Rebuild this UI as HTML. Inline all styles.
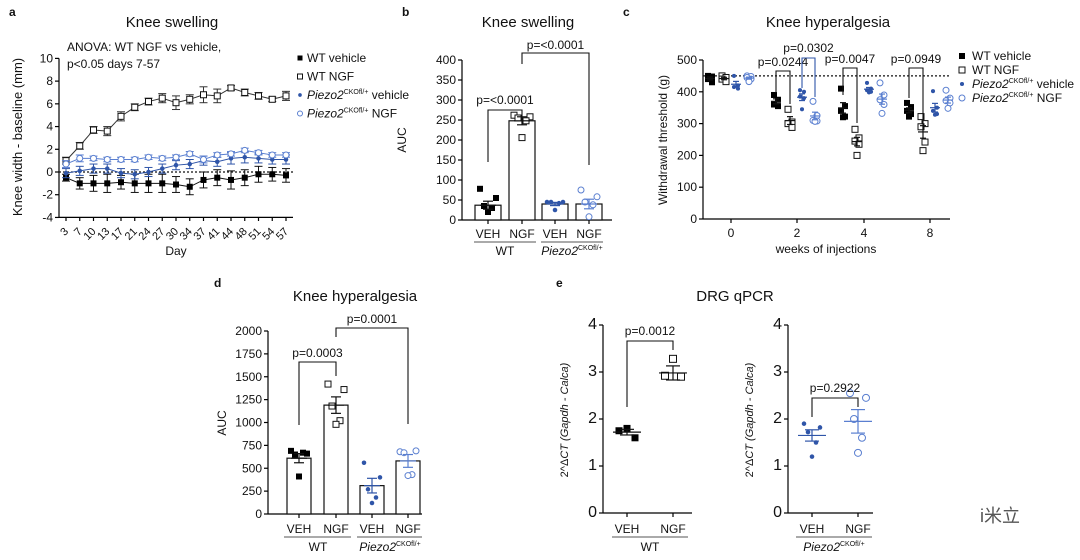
<!DOCTYPE html>
<html><head><meta charset="utf-8"><style>
html,body{margin:0;padding:0;background:#fff;}
svg{display:block;font-family:"Liberation Sans","Noto Sans CJK SC",sans-serif;}
</style></head><body>
<svg id="fig" width="1080" height="560" viewBox="0 0 1080 560"></svg>
<script>
// ---------- Panel a data ----------
const aDays = [3,7,10,13,17,21,24,27,30,34,37,41,44,48,51,54,57];
const aWTveh = [-0.5,-1,-1,-1,-0.9,-1,-1,-1,-1.1,-1.3,-0.7,-0.5,-0.7,-0.5,-0.2,-0.2,-0.3];
const aWTvehErr = [0.3,0.5,0.7,0.8,0.6,0.8,0.8,0.8,0.7,0.7,0.7,0.7,0.8,0.7,0.7,0.6,0.6];
const aWTngf = [1.0,2.3,3.7,3.6,4.9,5.7,6.2,6.5,6.1,6.4,6.8,6.7,7.4,7.0,6.7,6.4,6.7];
const aWTngfErr = [0.3,0.3,0.3,0.4,0.4,0.3,0.3,0.4,0.6,0.4,0.7,0.6,0.2,0.3,0.3,0.2,0.4];
const aPveh = [-0.1,0.1,0.3,0.3,-0.1,-0.2,0,0.3,0.6,0.7,1.0,0.9,1.2,1.3,1.2,1.1,1.1];
const aPvehErr = [0.4,0.4,0.4,0.4,0.4,0.4,0.4,0.4,0.4,0.4,0.4,0.4,0.5,0.5,0.4,0.4,0.4];
const aPngf = [0.7,1.2,1.2,1.1,1.1,1.1,1.3,1.2,1.3,1.6,1.1,1.5,1.6,1.9,1.7,1.5,1.5];
const aPngfErr = [0.3,0.3,0.2,0.2,0.2,0.2,0.2,0.2,0.2,0.2,0.3,0.2,0.2,0.2,0.2,0.2,0.2];
const aYTicks = [10,8,6,4,2,0,-2,-4];
// ---------- Panel b data ----------
const bGroups = ["VEH","NGF","VEH","NGF"];
const bMeans = [37,248,40,40];
const bErrs = [10,10,4,12];
const bPts = [[78,55,35,30,20],[262,258,255,248,206],[45,45,45,42,25],[75,58,45,38,8]];
const bYTicks = [0,50,100,150,200,250,300,350,400];
// ---------- Panel c data ----------
const cWeeks = ["0","2","4","8"];
const cWTveh = [[450,448,440,430],[390,375,360,355],[410,355,340,322,320],[365,352,340,330,322]];
const cWTngf = [[450,445,440,432],[345,305,300,288],[282,255,245,235,200],[322,300,290,242,215]];
const cPveh = [[450,420,415,410],[405,400,385,380,345],[428,410,405,400,398],[402,350,340,330,328]];
const cPngf = [[450,448,445,440,432],[370,325,310,308,307],[428,390,375,360,332],[405,380,372,365,348]];
const cYTicks = [0,100,200,300,400,500];
// ---------- Panel d data ----------
const dMeans = [610,1190,310,580];
const dErrs = [50,90,80,70];
const dPts = [[690,660,650,670,410],[1420,1360,1180,1020,980],[560,400,270,180,120],[680,690,670,430,420]];
const dYTicks = [0,250,500,750,1000,1250,1500,1750,2000];
// ---------- Panel e data ----------
const eWTpts = [[1.8,1.75,1.6],[3.28,2.92,2.9]];
const eWTmeans = [1.72,2.98];
const eWTerrs = [0.06,0.15];
const ePpts = [[1.9,1.82,1.72,1.5,1.2],[2.55,2.45,2.0,1.6,1.28]];
const ePmeans = [1.65,1.95];
const ePerrs = [0.12,0.25];
const eYTicks = [0,1,2,3,4];

const S = document.getElementById('fig');
const NS = 'http://www.w3.org/2000/svg';
const BL = '#2f55a8', BL2 = '#5a7fd0';
function mk(tag, at, name){
  const el = document.createElementNS(NS, tag);
  for (const k in at) el.setAttribute(k, at[k]);
  
  
  S.appendChild(el); return el;
}
function line(x1,y1,x2,y2,name,st,w,dash){const a={x1,y1,x2,y2,stroke:st||'#000','stroke-width':w||1.2};if(dash)a['stroke-dasharray']=dash;return mk('line',a,name);}
function txt(x,y,s,name,o){o=o||{};const a={x,y,'font-size':o.fs||12,'text-anchor':o.an||'middle',fill:o.fill||'#111'};if(o.it)a['font-style']='italic';if(o.tr)a.transform=o.tr;if(o.fw)a['font-weight']=o.fw;const t=mk('text',a,name);t.innerHTML=s;return t;}
function marker(type,x,y,name,sz){
  sz=sz||6;
  if(type==='fs') return mk('rect',{x:x-sz/2,y:y-sz/2,width:sz,height:sz,fill:'#000'},name);
  if(type==='os') return mk('rect',{x:x-sz/2,y:y-sz/2,width:sz,height:sz,fill:'#fff',stroke:'#111','stroke-width':1},name);
  if(type==='fc') return mk('circle',{cx:x,cy:y,r:sz/2.2,fill:BL},name);
  return mk('circle',{cx:x,cy:y,r:sz/2,fill:'#fff',stroke:BL2,'stroke-width':1},name);
}
function yAxis(x,ys,ticks,fn,name,fs){
  line(x,fn(ticks[0]),x,fn(ticks[ticks.length-1]),name+'-line');
  ticks.forEach(t=>{line(x-4,fn(t),x,fn(t),name+'-tick');txt(x-6,fn(t)+4,t,name+'-label',{an:'end',fs:fs||12});});
}
function bracket(x1,x2,top,f1,f2,label,name,col,ty){
  col=col||'#111';
  mk('polyline',{points:`${x1},${f1} ${x1},${top} ${x2},${top} ${x2},${f2}`,fill:'none',stroke:col,'stroke-width':1.1},name);
  txt((x1+x2)/2,ty||top-5,label,name+'-label',{fs:12});
}
function sem(x,m,e,fn,hw,cap,col,name){
  line(x-hw,fn(m),x+hw,fn(m),name+'-mean',col,1.2);
  line(x,fn(m-e),x,fn(m+e),name+'-err',col,1.2);
  line(x-cap,fn(m-e),x+cap,fn(m-e),name+'-cap',col,1.2);
  line(x-cap,fn(m+e),x+cap,fn(m+e),name+'-cap',col,1.2);
}
const jit5=[-8,8,-4,4,0];
const PZ='<tspan font-style="italic">Piezo2</tspan><tspan font-size="7" dy="-5">CKOfl/+</tspan>';

// ================= Panel a =================
txt(9,16,'a','panel-a-letter',{fs:12,fw:'bold',an:'start'});
txt(172,27,'Knee swelling','panel-a-title',{fs:15});
txt(67,51,'ANOVA: WT NGF vs vehicle,','anova-note',{an:'start',fs:12});
txt(67,68,'p&lt;0.05 days 7-57','anova-note-2',{an:'start',fs:12});
const ya=v=>172-v*11.36, xa=i=>66+i*13.75;
yAxis(59,null,aYTicks,ya,'a-y-axis',12);
line(59,217.4,293,217.4,'a-x-axis');
aDays.forEach((d,i)=>{line(xa(i),217.4,xa(i),221,'a-x-tick');txt(xa(i)+3,232,d,'a-x-label',{an:'end',fs:11,tr:`rotate(-45 ${xa(i)+3} 232)`});});
txt(176,255,'Day','a-x-title',{fs:12});
txt(22,137,'Knee width - baseline (mm)','a-y-title',{fs:13,tr:'rotate(-90 22 137)'});
line(59,ya(0),293,ya(0),'a-zero-line','#111',1.2,'2,2');
[[aWTveh,aWTvehErr,'fs','#111','wt-vehicle'],[aWTngf,aWTngfErr,'os','#333','wt-ngf'],[aPveh,aPvehErr,'fc',BL,'piezo2-vehicle'],[aPngf,aPngfErr,'oc',BL2,'piezo2-ngf']].forEach(([v,e,m,c,n])=>{
  mk('polyline',{points:v.map((y,i)=>`${xa(i)},${ya(y)}`).join(' '),fill:'none',stroke:c,'stroke-width':1},'a-line-'+n);
  v.forEach((y,i)=>{line(xa(i),ya(y-e[i]),xa(i),ya(y+e[i]),'a-err-'+n,c,1);line(xa(i)-4,ya(y-e[i]),xa(i)+4,ya(y-e[i]),'a-cap-'+n,c,1);line(xa(i)-4,ya(y+e[i]),xa(i)+4,ya(y+e[i]),'a-cap-'+n,c,1);marker(m,xa(i),ya(y),'a-point-'+n,m==='fc'?5:6);});
});
[['fs','WT vehicle'],['os','WT NGF'],['fc',PZ+'<tspan dy="5"> vehicle</tspan>'],['oc',PZ+'<tspan dy="5"> NGF</tspan>']].forEach(([m,l],i)=>{
  const y=58+i*18.5;marker(m,300,y,'a-legend-marker',m==='fc'?4:5);
  txt(307,y+4,l,'a-legend-entry',{an:'start',fs:12});
});

// ================= Panel b =================
txt(402,16,'b','panel-b-letter',{fs:12,fw:'bold',an:'start'});
txt(528,27,'Knee swelling','panel-b-title',{fs:15});
const yb=v=>220-v*0.4, xb=[488,522,555,589];
yAxis(462,null,bYTicks,yb,'b-y-axis',12);
line(462,220,612,220,'b-x-axis');
txt(406,140,'AUC','b-y-title',{fs:12,tr:'rotate(-90 406 140)'});
bMeans.forEach((m,i)=>{
  mk('rect',{x:xb[i]-13,y:yb(m),width:26,height:220-yb(m),fill:'#fff',stroke:'#111','stroke-width':1.2},'b-bar-'+i);
  const c=i<2?'#111':(i==2?BL:BL2);
  bPts[i].forEach((p,j)=>marker(['fs','os','fc','oc'][i],xb[i]+jit5[j],yb(p),'b-point',i==2?5:6));
  sem(xb[i],m,bErrs[i],yb,8,5,c,'b-sem');
  line(xb[i],220,xb[i],224,'b-x-tick');
  txt(xb[i],238,bGroups[i],'b-x-label',{fs:12});
});
line(474,242,536,242,'b-wt-underline','#555',1);line(541,242,603,242,'b-piezo-underline','#555',1);
txt(505,255,'WT','b-wt-label',{fs:12});
txt(572,255,PZ,'b-piezo-label',{fs:12});
bracket(488,522,110,162,123,'p=&lt;0.0001','b-bracket-1',null,104);
bracket(522,589,53,64,165,'p=&lt;0.0001','b-bracket-2',null,49);

// ================= Panel c =================
txt(623,16,'c','panel-c-letter',{fs:12,fw:'bold',an:'start'});
txt(828,27,'Knee hyperalgesia','panel-c-title',{fs:15});
const yc=v=>219-v*0.318, xcC=[731,797,864,930], off=[-21,-7,5,18];
yAxis(703,null,cYTicks,yc,'c-y-axis',12);
line(703,219,950,219,'c-x-axis');
cWeeks.forEach((w,i)=>{line(xcC[i],219,xcC[i],223,'c-x-tick');txt(xcC[i],237,w,'c-x-label',{fs:12});});
txt(826,253,'weeks of injections','c-x-title',{fs:12});
txt(667,140,'Withdrawal threshold (g)','c-y-title',{fs:12,tr:'rotate(-90 667 140)'});
line(703,yc(450),950,yc(450),'c-baseline','#111',1.2,'2,2');
[[cWTveh,'fs','#111'],[cWTngf,'os','#111'],[cPveh,'fc',BL],[cPngf,'oc',BL2]].forEach(([arr,m,c],g)=>{
  arr.forEach((pts,k)=>{
    const x=xcC[k]+off[g], mean=pts.reduce((a,b)=>a+b,0)/pts.length;
    const sd=Math.sqrt(pts.reduce((a,b)=>a+(b-mean)**2,0)/(pts.length-1))/Math.sqrt(pts.length);
    pts.forEach((p,j)=>marker(m,x+[-2,2,-2,2,0][j],yc(p),'c-point',m==='fc'?4.5:6));
    sem(x,mean,sd,yc,5,3,c,'c-sem');
  });
});
bracket(xcC[1]+off[0],xcC[1]+off[1],71,93,104,'p=0.0244','c-bracket-wk2',null,66);
bracket(xcC[1]+off[2],xcC[1]+off[3],58,88,97,'p=0.0302','c-bracket-wk2-piezo',BL,52);
bracket(xcC[2]+off[0],xcC[2]+off[1],68,95,123,'p=0.0047','c-bracket-wk4',null,63);
bracket(xcC[3]+off[0],xcC[3]+off[1],68,98,130,'p=0.0949','c-bracket-wk8',null,63);
[['fs','WT vehicle'],['os','WT NGF'],['fc',PZ+'<tspan dy="5"> vehicle</tspan>'],['oc',PZ+'<tspan dy="5"> NGF</tspan>']].forEach(([m,l],i)=>{
  const y=56+i*14;marker(m,962,y,'c-legend-marker',m==='fc'?4.5:6);
  txt(972,y+4,l,'c-legend-entry',{an:'start',fs:12});
});

// ================= Panel d =================
txt(214,287,'d','panel-d-letter',{fs:12,fw:'bold',an:'start'});
txt(355,301,'Knee hyperalgesia','panel-d-title',{fs:15});
const yd=v=>514-v*0.0915, xd=[299,336,372,408];
yAxis(268,null,dYTicks,yd,'d-y-axis',12);
line(268,514,422,514,'d-x-axis');
txt(226,423,'AUC','d-y-title',{fs:12,tr:'rotate(-90 226 423)'});
dMeans.forEach((m,i)=>{
  mk('rect',{x:xd[i]-12,y:yd(m),width:24,height:514-yd(m),fill:'#fff',stroke:'#111','stroke-width':1.2},'d-bar-'+i);
  const c=i<2?'#111':(i==2?BL:BL2);
  dPts[i].forEach((p,j)=>marker(['fs','os','fc','oc'][i],xd[i]+jit5[j],yd(p),'d-point',i==2?5:6));
  sem(xd[i],m,dErrs[i],yd,8,5,c,'d-sem');
  line(xd[i],514,xd[i],518,'d-x-tick');
  txt(xd[i],533,bGroups[i],'d-x-label',{fs:12});
});
line(284,537,351,537,'d-wt-underline','#555',1);line(357,537,422,537,'d-piezo-underline','#555',1);
txt(318,551,'WT','d-wt-label',{fs:12});
txt(390,551,PZ,'d-piezo-label',{fs:12});
bracket(299,336,362,425,376,'p=0.0003','d-bracket-1',null,357);
bracket(336,408,328,337,424,'p=0.0001','d-bracket-2',null,323);

// ================= Panel e =================
txt(556,287,'e','panel-e-letter',{fs:12,fw:'bold',an:'start'});
txt(735,301,'DRG qPCR','panel-e-title',{fs:15});
const ye=v=>513-v*47;
function ePanel(ax,xs,pts,means,errs,mk1,mk2,c1,c2,end,name){
  yAxis(ax,null,eYTicks,ye,name+'-y-axis',16);
  line(ax,513,end,513,name+'-x-axis');
  txt(ax-35,420,'2^Δ<tspan font-style="italic">CT (Gapdh - Calca)</tspan>','e-y-title',{fs:11,tr:`rotate(-90 ${ax-35} 420)`});
  ['VEH','NGF'].forEach((g,i)=>{line(xs[i],513,xs[i],517,name+'-x-tick');txt(xs[i],533,g,name+'-x-label',{fs:12});});
  pts.forEach((arr,i)=>{arr.forEach((p,j)=>marker(i?mk2:mk1,xs[i]+(arr.length==3?[0,-8,8][j]:jit5[j]),ye(p),name+'-point',(i?mk2:mk1)==='fc'?5:7));
    sem(xs[i],means[i],errs[i],ye,14,7,i?c2:c1,name+'-sem');});
}
ePanel(603,[627,673],eWTpts,eWTmeans,eWTerrs,'fs','os','#111','#111',692,'e-wt');
line(612,537,688,537,'e-wt-underline','#555',1);
txt(650,551,'WT','e-wt-label',{fs:12});
bracket(627,673,341,407,350,'p=0.0012','e-wt-bracket',null,335);
ePanel(788,[812,858],ePpts,ePmeans,ePerrs,'fc','oc',BL,BL2,873,'e-piezo');
line(796,537,872,537,'e-piezo-underline','#555',1);
txt(834,551,PZ,'e-piezo-label',{fs:12});
bracket(812,858,398,417,407,'p=0.2922','e-piezo-bracket',null,392);

// watermark
txt(1000,522,'i米立','watermark',{fs:18,fill:'#555'});
</script>
</body></html>
